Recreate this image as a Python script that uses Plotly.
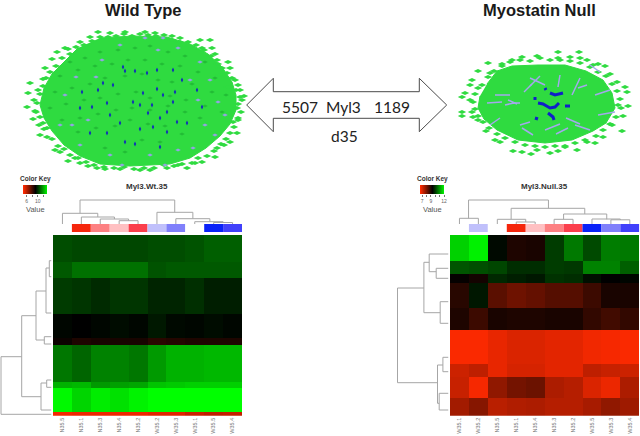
"""Myl3 co-expression networks and heatmaps, wild type vs myostatin null at d35."""
import plotly.graph_objects as go

W, H = 640, 436

# heatmap columns, in plotted order
wt_samples = ["N35.5", "N35.1", "N35.3", "N35.4", "N35.2", "W35.2", "W35.3", "W35.1", "W35.5", "W35.4"]
null_samples = ["W35.1", "W35.2", "N35.5", "N35.1", "N35.4", "N35.3", "N35.2", "W35.5", "W35.3", "W35.4"]

sample_colors = {
    "N35.1": "#f5260c", "N35.2": "#fb3f4c", "N35.3": "#fd8082", "N35.4": "#ffc0c2", "N35.5": "#ffffff",
    "W35.1": "#ffffff", "W35.2": "#c0c0fb", "W35.3": "#8080fb", "W35.4": "#4040fb", "W35.5": "#0a22f8",
}

# expression blocks, rows top to bottom
wt_values = [
    [10.3, 10.2, 10.2, 10.2, 10.2, 10.3, 10.3, 10.4, 10.6, 10.6],
    [10.5, 10.9, 10.9, 10.9, 10.9, 10.4, 10.5, 10.5, 10.5, 10.5],
    [10.0, 9.9, 9.7, 9.9, 9.9, 9.6, 9.6, 9.8, 9.5, 9.5],
    [9.1, 9.0, 9.1, 9.2, 9.1, 9.4, 9.15, 9.1, 9.2, 9.1],
    [8.8, 8.5, 8.6, 8.6, 8.6, 8.3, 8.4, 8.5, 8.5, 8.5],
    [11.0, 10.7, 11.2, 11.2, 11.0, 11.6, 12.0, 12.0, 12.1, 12.1],
    [12.0, 12.1, 11.6, 11.7, 11.8, 12.3, 12.4, 12.5, 12.5, 12.5],
    [13.2, 12.6, 13.0, 12.8, 13.1, 13.3, 13.3, 13.3, 13.3, 13.3],
    [4.9, 5.0, 5.0, 5.0, 5.0, 5.2, 5.2, 5.6, 5.8, 5.7],
]
null_values = [
    [11.5, 11.85, 9.35, 8.93, 8.98, 9.9, 10.55, 10.05, 10.6, 10.55],
    [10.17, 10.1, 10.0, 9.73, 9.73, 9.9, 9.85, 10.65, 10.65, 10.27],
    [9.2, 9.03, 9.68, 9.57, 9.5, 9.79, 9.73, 9.41, 9.25, 9.3],
    [8.82, 9.5, 8.28, 8.06, 8.17, 8.33, 8.33, 8.6, 8.98, 8.98],
    [8.93, 8.6, 8.98, 8.93, 8.93, 8.98, 8.98, 8.71, 8.55, 8.71],
    [6.55, 6.55, 6.75, 6.9, 6.9, 6.8, 6.8, 6.65, 6.6, 6.55],
    [7.05, 7.2, 6.75, 6.95, 6.95, 6.8, 6.8, 7.2, 7.1, 7.05],
    [7.1, 6.6, 7.7, 8.0, 8.1, 7.4, 7.3, 6.9, 6.7, 7.4],
    [7.5, 7.8, 7.25, 7.35, 7.4, 7.3, 7.3, 7.45, 7.7, 7.55],
]
wt_row_edges = [0, 26.7, 43.3, 79, 102.7, 110, 147, 152.7, 177, 180.7]
null_row_edges = [0, 25.7, 39.3, 47.7, 73.3, 95, 129, 141.7, 163.3, 180.7]

# dendrogram merges: position a, child height a, position b, child height b, merge height
wt_col_merges = [
    (0.93, 10.7, 5.94, 11.7, 24), (0, 0, 1.87, 7, 10.7), (1, 0, 2.75, 5, 7), (2, 0, 3.5, 3.3, 5), (3, 0, 4, 0, 3.3),
    (5, 0, 6.9, 5.3, 11.7), (6, 0, 7.8, 2.3, 5.3), (7, 0, 8.5, 1.5, 2.3), (8, 0, 9, 0, 1.5),
]
null_col_merges = [
    (0.48, 5.7, 4.7, 15.7, 24), (0, 0, 1, 0, 5.7), (2.73, 4.7, 6.62, 10, 15.7), (2, 0, 3.5, 2, 4.7), (3, 0, 4, 0, 2),
    (5.5, 4.7, 7.78, 4.7, 10), (5, 0, 6, 0, 4.7), (7, 0, 8.5, 4.2, 5), (8, 0, 9, 0, 4.2),
]
wt_row_merges = [
    (121.7, 29.8, 179.3, 0, 50.5), (80.7, 15.5, 161.7, 10.5, 29.8), (56, 5.5, 105, 7.2, 15.5),
    (33, 2.2, 78, 0, 5.5), (25.7, 0, 41.7, 0, 2.2), (101.7, 0, 109, 0, 7.2),
    (148, 4.8, 175, 0, 10.5), (145, 0, 152.3, 0, 4.8),
]
null_row_merges = [
    (53, 24.6, 147.7, 11, 51), (27.3, 19.3, 77.7, 8.3, 24.6), (19, 0, 36.7, 12.3, 19.3), (33.3, 0, 43.3, 0, 12.3),
    (66.7, 0, 88.3, 0, 8.3), (130, 5.6, 168.3, 9.3, 11), (122.3, 0, 136.7, 0, 5.6), (158.3, 0, 175, 0, 9.3),
]

wt_key_levels = [4.7, 5.8, 6.9, 8, 9, 10, 11.1, 12.2, 13.3]
null_key_levels = [6.5, 7.2, 7.9, 8.6, 9.25, 9.9, 10.6, 11.3, 12]

# network nodes in page pixels
wt_core_x = [100, 133, 167, 190, 208, 222, 232, 236, 236, 230, 220, 206, 190, 170, 130, 100, 80, 64, 52, 44, 40, 44, 52, 64, 78]
wt_core_y = [38, 36, 37, 44, 54, 67, 82, 95, 110, 124, 136, 148, 158, 164, 166, 164, 156, 145, 131, 118, 105, 88, 74, 62, 48]
wt_outer_x = [98, 90, 80, 65, 68, 57, 52, 45, 43, 30, 28, 38, 27, 33, 40, 43, 55, 68, 80, 97, 120, 167, 187, 202, 215, 217,
              230, 237, 238, 237, 210, 200, 180, 172, 212, 202, 215, 228, 218, 230, 220, 235, 238, 228, 244, 240, 242,
              110, 125, 145, 155, 47, 36, 60, 75, 88, 105, 140, 150, 178, 195, 224, 233,
              56, 62, 70, 76, 84, 92, 100, 108, 116, 124, 132, 140, 148, 156, 164, 172, 180, 188, 196, 204, 211, 217, 222, 227, 232,
              236, 240, 238, 241, 238, 234, 230, 226,
              221, 214, 207, 198, 192, 182, 174, 164, 154, 144, 134, 124, 114, 104, 94, 86, 78, 70, 64, 58, 52, 47,
              44, 39, 40, 35, 37, 34, 40, 43, 46, 50]
wt_outer_y = [32, 37, 42, 48, 49, 52, 59, 68, 79, 83, 93, 90, 107, 119, 135, 123, 150, 161, 163, 168, 169, 168, 168, 162, 157, 148,
              142, 133, 118, 108, 40, 40, 38, 36, 48, 48, 54, 62, 64, 68, 75, 80, 85, 87, 96, 90, 100,
              33, 32, 32, 33, 128, 112, 152, 158, 166, 169, 170, 170, 165, 163, 145, 122,
              66, 58, 54, 47, 45, 41, 37, 37, 36, 34, 36, 34, 35, 36, 35, 40, 42, 42, 45, 50, 56, 60, 68, 73, 78,
              90, 97, 104, 112, 120, 127, 133, 139,
              144, 151, 156, 158, 163, 164, 166, 165, 168, 168, 169, 167, 168, 167, 165, 162, 158, 155, 149, 146, 139, 137,
              129, 125, 117, 111, 103, 100, 94, 86, 78, 72]
wt_shade_x = [70, 85, 100, 118, 135, 150, 168, 185, 205, 60, 78, 95, 112, 128, 145, 162, 180, 198, 215, 55, 72, 90, 105, 125,
              142, 158, 172, 192, 212, 226, 50, 66, 84, 100, 118, 136, 150, 170, 186, 205, 222, 62, 80, 98, 116, 132, 150, 168,
              185, 200, 78, 96, 115, 130, 148, 165, 182, 105, 125, 142, 160]
wt_shade_y = [62, 58, 52, 50, 48, 46, 52, 56, 62, 76, 70, 66, 64, 60, 60, 64, 66, 72, 78, 92, 88, 84, 78, 76,
              74, 80, 82, 84, 92, 95, 108, 104, 100, 98, 94, 92, 98, 96, 100, 106, 112, 120, 118, 114, 110, 108, 110, 106,
              112, 118, 132, 128, 126, 120, 124, 126, 134, 148, 152, 140, 142]
wt_hub_x = [123, 125, 135, 157, 163, 92, 107, 113, 103, 133, 140, 152, 148, 173, 175, 182, 197, 140, 153, 167, 135, 110,
            120, 160, 177, 187, 202, 167, 82, 98, 143, 80, 90, 147, 173, 157, 107, 125, 160]
wt_hub_y = [67, 71, 71, 89, 95, 107, 103, 85, 83, 102, 105, 105, 113, 102, 92, 80, 90, 129, 127, 132, 144, 115,
            123, 118, 122, 123, 107, 112, 92, 90, 93, 108, 133, 73, 70, 70, 133, 142, 147]
wt_mid_x = [102, 96, 76, 145, 163, 200, 178, 158, 120, 198, 218, 225, 80, 215, 193, 122, 165, 88, 65, 60, 110, 150, 178, 205, 72, 190, 210]
wt_mid_y = [60, 77, 77, 38, 38, 62, 48, 50, 45, 100, 102, 115, 145, 135, 148, 165, 165, 120, 95, 125, 155, 155, 150, 125, 125, 80, 80]

null_core_x = [487, 497, 512, 538, 565, 586, 603, 612, 615, 606, 593, 572, 545, 518, 497, 484, 478, 480]
null_core_y = [84, 71, 66, 65, 65, 71, 80, 93, 108, 123, 131, 140, 143, 140, 130, 119, 108, 96]
null_outer_x = [558, 579, 580, 570, 558, 537, 522, 512, 502, 488, 478, 490, 472, 470, 465, 462, 470, 462, 462, 472, 473, 478,
                486, 495, 500, 513, 522, 531, 537, 550, 558, 577, 565, 587, 595, 603, 622, 612, 623, 628, 618, 627, 625, 617, 610, 605, 598, 593, 587,
                482, 488, 494, 502, 510, 520, 530, 540, 550, 560, 570, 580, 590, 598, 606, 612, 617, 620, 621, 616, 610, 603, 596,
                585, 575, 565, 555, 545, 535, 525, 515, 505, 497, 489, 483, 478, 475, 473, 475, 478]
null_outer_y = [52, 52, 58, 57, 58, 56, 57, 60, 64, 63, 71, 73, 80, 85, 93, 97, 100, 112, 116, 112, 117, 120,
                131, 140, 142, 151, 152, 154, 150, 153, 151, 150, 147, 142, 143, 137, 131, 125, 116, 106, 105, 92, 87, 82, 74, 66, 64, 65, 60,
                85, 77, 71, 66, 62, 60, 61, 58, 60, 60, 61, 63, 67, 72, 76, 84, 91, 99, 108, 117, 124, 130, 136,
                140, 143, 146, 146, 147, 146, 145, 142, 138, 134, 128, 122, 116, 109, 102, 94, 88]
null_band_x = [538, 543, 550, 555, 559, None, 565, 570, None, 535, 535, None, 550, 555, 563, None, 545, 546, None, 548, 553, 554, None, 535, 538]
null_band_y = [103, 104, 108, 107, 103, None, 106, 106, None, 97, 100, None, 93, 95, 93, None, 88, 90, None, 113, 117, 120, None, 118, 119]
null_vein_x = [495, 510, None, 487, 502, None, 560, 558, None, 578, 587, None, 598, 615, None, 508, 517, None, 505, 514, None,
               520, 530, None, 590, 600, None, 530, 545, None, 575, 590, None, 522, 533, None, 580, 572, None, 512, 520, None,
               524, 532, None, 545, 560, None, 566, 580, None, 500, 490, None, 540, 530, None, 595, 610, None, 556, 568]
null_vein_y = [95, 95, None, 103, 102, None, 75, 87, None, 88, 85, None, 115, 112, None, 100, 104, None, 105, 103, None,
               125, 122, None, 65, 72, None, 78, 85, None, 125, 130, None, 128, 135, None, 78, 95, None, 103, 103, None,
               92, 84, None, 130, 124, None, 118, 124, None, 118, 125, None, 76, 86, None, 95, 90, None, 134, 128]

# double arrow between the two networks
arrow_x = [246.7, 273.3, 273.3, 419.3, 419.3, 446.7, 419.3, 419.3, 273.3, 273.3, 246.7]
arrow_y = [105, 78.3, 91.7, 91.7, 78.3, 105, 131.7, 118.3, 118.3, 131.7, 105]

NODE_GREEN = "#2fdb40"
DENDRO_GREY = "#a6a6a6"
red_black_green = [[0, "#ff2a00"], [0.5, "#000000"], [1, "#00ff00"]]


def dom_x(left, right):
    return [left / W, right / W]


def dom_y(top, bottom):
    return [1 - bottom / H, 1 - top / H]


def merge_paths(merges):
    pos, hgt = [], []
    for a, ha, b, hb, h in merges:
        pos += [a, a, b, b, None]
        hgt += [ha, h, h, hb, None]
    return pos, hgt


fig = go.Figure()

# full page axis for the networks and the arrow
hidden = dict(visible=False, fixedrange=True)
layout_axes = {
    "xaxis": dict(domain=[0, 1], range=[0, W], **hidden),
    "yaxis": dict(domain=[0, 1], range=[H, 0], **hidden),
}


def add_network(core_x, core_y, outer_x, outer_y):
    fig.add_trace(go.Scatter(x=core_x, y=core_y, mode="lines", fill="toself", fillcolor=NODE_GREEN,
                             line=dict(color=NODE_GREEN, width=1), hoverinfo="skip"))
    fig.add_trace(go.Scatter(x=outer_x, y=outer_y, mode="markers", hoverinfo="skip",
                             marker=dict(symbol="diamond-wide", size=6, color=NODE_GREEN)))


add_network(wt_core_x, wt_core_y, wt_outer_x, wt_outer_y)
fig.add_trace(go.Scatter(x=wt_shade_x, y=wt_shade_y, mode="markers", hoverinfo="skip",
                         marker=dict(symbol="diamond-wide", size=4, color="#22bd35")))
fig.add_trace(go.Scatter(x=wt_mid_x, y=wt_mid_y, mode="markers", hoverinfo="skip",
                         marker=dict(symbol="diamond-wide", size=4, color="#93a3e2")))
fig.add_trace(go.Scatter(x=wt_hub_x, y=wt_hub_y, mode="markers", hoverinfo="skip",
                         marker=dict(symbol="diamond-tall", size=3.5, color="#1030b8")))

add_network(null_core_x, null_core_y, null_outer_x, null_outer_y)
fig.add_trace(go.Scatter(x=null_vein_x, y=null_vein_y, mode="lines", hoverinfo="skip",
                         line=dict(color="#a4a8ec", width=1.5)))
fig.add_trace(go.Scatter(x=null_band_x, y=null_band_y, mode="lines", hoverinfo="skip",
                         line=dict(color="#1020c8", width=3)))

fig.add_trace(go.Scatter(x=arrow_x, y=arrow_y, mode="lines", fill="toself", fillcolor="#ffffff",
                         line=dict(color="#4a4a4a", width=1), hoverinfo="skip"))


def add_heatmap(n, values, samples, row_edges, col_merges, row_merges, zmin, zmax, left, right, dendro_left):
    """n is the first axis number used by this panel."""
    x_main, y_main, y_top, x_side = f"x{n}", f"y{n}", f"y{n + 1}", f"x{n + 1}"
    columns = list(range(len(samples)))
    fig.add_trace(go.Heatmap(z=values, x=columns, y=row_edges, xaxis=x_main, yaxis=y_main, zmin=zmin, zmax=zmax,
                             colorscale=red_black_green, showscale=False, hoverinfo="skip"))
    fig.add_trace(go.Bar(x=columns, y=[8] * len(samples), base=-8, width=1, xaxis=x_main, yaxis=y_top,
                         marker=dict(color=[sample_colors[s] for s in samples], line_width=0), hoverinfo="skip"))
    pos, hgt = merge_paths(col_merges)
    fig.add_trace(go.Scatter(x=pos, y=hgt, mode="lines", xaxis=x_main, yaxis=y_top, hoverinfo="skip",
                             line=dict(color=DENDRO_GREY, width=1)))
    pos, hgt = merge_paths(row_merges)
    fig.add_trace(go.Scatter(x=hgt, y=pos, mode="lines", xaxis=x_side, yaxis=y_main, hoverinfo="skip",
                             line=dict(color=DENDRO_GREY, width=1)))
    layout_axes[f"xaxis{n}"] = dict(domain=dom_x(left, right), range=[-0.5, 9.5], anchor=y_main, tickmode="array",
                                    tickvals=columns, ticktext=samples, tickangle=-90, ticks="", showgrid=False,
                                    zeroline=False, tickfont=dict(family="Liberation Sans", size=5.5, color="#777777"),
                                    fixedrange=True)
    layout_axes[f"yaxis{n}"] = dict(domain=dom_y(235, 415.7), range=[180.7, 0], anchor=x_main, **hidden)
    layout_axes[f"yaxis{n + 1}"] = dict(domain=dom_y(196, 232), range=[-8, 28], anchor=x_main, **hidden)
    layout_axes[f"xaxis{n + 1}"] = dict(domain=dom_x(dendro_left, left - 1.5), range=[left - 1.5 - dendro_left, 0],
                                        anchor=y_main, **hidden)


add_heatmap(2, wt_values, wt_samples, wt_row_edges, wt_col_merges, wt_row_merges, 4.7, 13.3, 53, 242, 0)
add_heatmap(4, null_values, null_samples, null_row_edges, null_col_merges, null_row_merges, 6.5, 12, 450, 639.3, 397)


def add_key(n, levels, tickvals, ticktext, left, right):
    fig.add_trace(go.Heatmap(z=[levels], x=levels, xaxis=f"x{n}", yaxis=f"y{n}", zmin=levels[0], zmax=levels[-1],
                             zsmooth="best", colorscale=red_black_green, showscale=False, hoverinfo="skip"))
    layout_axes[f"xaxis{n}"] = dict(domain=dom_x(left, right), range=[levels[0], levels[-1]], anchor=f"y{n}",
                                    tickmode="array", tickvals=tickvals, ticktext=ticktext, ticks="outside", ticklen=2,
                                    tickcolor="#777777", tickwidth=0.5, showgrid=False, zeroline=False,
                                    tickfont=dict(family="Liberation Sans", size=5, color="#666666"), fixedrange=True)
    layout_axes[f"yaxis{n}"] = dict(domain=dom_y(185, 194), anchor=f"x{n}", **hidden)


add_key(6, wt_key_levels, [6, 8, 10, 12], ["6", "", "10", ""], 23, 47)
add_key(7, null_key_levels, [7, 8, 9, 10, 11, 12], ["7", "", "9", "", "", "12"], 420, 444)


def label(x, y, text, size, family="Liberation Sans", color="#1a1a1a", bold=False):
    return dict(x=x, y=y, xref="x", yref="y", text=f"<b>{text}</b>" if bold else text, showarrow=False,
                font=dict(family=family, size=size, color=color), xanchor="center", yanchor="middle")


annotations = [
    label(143, 9.5, "Wild Type", 16.5, bold=True),
    label(539, 9.5, "Myostatin Null", 16.5, bold=True),
    label(300, 107, "5507", 15.5, family="Lato", color="#222222"),
    label(343, 107, "Myl3", 15.5, family="Lato", color="#222222"),
    label(392, 107, "1189", 15.5, family="Lato", color="#222222"),
    label(344, 136, "d35", 15.5, family="Lato", color="#222222"),
    label(147, 186, "Myl3.Wt.35", 8, color="#333333", bold=True),
    label(544, 186, "Myl3.Null.35", 8, color="#333333", bold=True),
    label(35, 179, "Color Key", 6.5, color="#333333", bold=True),
    label(432, 179, "Color Key", 6.5, color="#333333", bold=True),
    label(35, 209, "Value", 7.5, color="#555555"),
    label(432, 209, "Value", 7.5, color="#555555"),
]

fig.update_layout(
    width=W, height=H, margin=dict(l=0, r=0, t=0, b=0, autoexpand=False), showlegend=False,
    paper_bgcolor="white", plot_bgcolor="rgba(0,0,0,0)", barmode="overlay",
    annotations=annotations, **layout_axes,
)

# the page's default body margin would push the figure off the window
fig.write_html("out.html", config={"displayModeBar": False}, post_script="document.body.style.margin = '0';")
